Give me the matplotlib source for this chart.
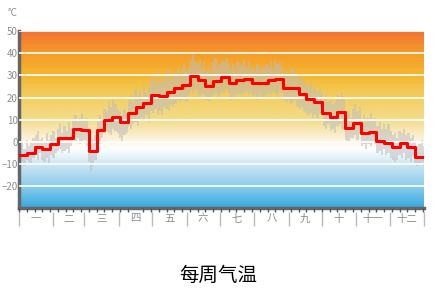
import numpy as np
import matplotlib.pyplot as plt
from matplotlib.colors import LinearSegmentedColormap

plt.rcParams['font.family'] = ['Noto Sans CJK SC', 'DejaVu Sans']

months = ['一', '二', '三', '四', '五', '六', '七', '八', '九', '十', '十一', '十二']
month_starts = [0, 31, 59, 90, 120, 151, 181, 212, 243, 273, 304, 334, 365]

# weekly mean temperature (red step line), week k starts on day 7k
weekly_mean = [-5.9, -4.8, -2.2, -3.2, -1.0, 1.7, 1.7, 5.8, 5.4, -4.0,
               5.4, 9.9, 11.4, 8.9, 13.2, 15.9, 17.4, 21.2, 20.9, 22.4,
               24.5, 25.7, 29.9, 27.9, 25.4, 27.6, 29.4, 26.4, 27.9, 28.6,
               26.4, 26.8, 27.9, 28.2, 24.5, 24.2, 21.5, 19.4, 17.9, 12.9,
               11.4, 13.7, 6.2, 8.7, 3.9, 4.4, 0.6, -0.3, -2.4, -0.3,
               -2.1, -6.6, -6.6]

range_high = [-1, 0, -3, 1, -2, 0, 2, 3, 5, 1,
              2, 0, 4, 1, 3, 5, 2, 6, 8, 4,
              7, 5, 9, 6, 10, 12, 9, 11, 13, 10,
              11, 2, -1, 1, 3, 9, 12, 10, 15, 14,
              18, 16, 19, 17, 15, 14, 12, 15, 13, 19,
              21, 18, 24, 21, 23, 20, 26, 22, 25, 28,
              30, 27, 32, 26, 29, 27, 31, 33, 28, 30,
              31, 34, 30, 33, 35, 32, 34, 37, 39, 36,
              35, 37, 33, 36, 32, 34, 31, 36, 38, 34,
              35, 37, 36, 38, 35, 33, 35, 32, 36, 34,
              35, 37, 34, 36, 33, 34, 32, 35, 33, 34,
              33, 35, 34, 36, 33, 37, 35, 36, 34, 31,
              32, 30, 33, 34, 31, 30, 28, 29, 27, 26,
              25, 27, 24, 25, 23, 24, 22, 19, 21, 18,
              19, 17, 18, 21, 19, 22, 20, 12, 14, 11,
              15, 17, 14, 16, 10, 12, 9, 11, 13, 10,
              11, 7, 9, 6, 8, 6, 8, 5, 3, 4,
              2, 5, 4, 6, 3, 4, 2, 3, 0, -2,
              -1, 1, -2]
range_low = [-10, -9, -11, -8, -9, -10, -7, -6, -8, -5,
             -8, -9, -7, -10, -6, -7, -5, -4, -3, -5,
             -4, -3, -5, -2, 1, 0, 2, -1, 0, 1,
             -2, -9, -13, -11, -8, 1, -1, 2, 4, 5,
             4, 3, 6, 5, 4, 2, 0, 3, 4, 7,
             6, 8, 9, 7, 10, 11, 10, 12, 9, 14,
             13, 15, 12, 14, 12, 16, 15, 14, 17, 16,
             17, 19, 18, 19, 20, 18, 21, 23, 22, 24,
             21, 20, 22, 21, 19, 18, 20, 21, 22, 20,
             21, 23, 22, 24, 22, 19, 20, 21, 21, 22,
             21, 22, 23, 21, 22, 20, 21, 19, 21, 20,
             20, 21, 22, 21, 23, 22, 21, 23, 22, 19,
             18, 19, 17, 18, 19, 16, 15, 16, 14, 13,
             12, 13, 11, 12, 11, 13, 12, 7, 6, 8,
             5, 6, 4, 7, 8, 6, 7, 1, 0, 2,
             2, 3, 1, 4, -2, -1, -3, -1, -2, 0,
             -1, -5, -4, -6, -3, -6, -5, -7, -8, -9,
             -8, -6, -7, -5, -8, -7, -9, -6, -10, -11,
             -10, -9, -11]

y_min, y_max = -29.7, 50

fig = plt.figure(figsize=(4.37, 3.07), dpi=100)
ax = fig.add_axes([19 / 437, 1 - 208 / 307, 405 / 437, 177 / 307])

# background gradient
stops = [(0.0, '#36a9df'), (0.122, '#8bcdec'), (0.247, '#cde6f3'), (0.335, '#ffffff'),
         (0.40, '#fbf0d4'), (0.498, '#f3dc8a'), (0.624, '#f3cf62'), (0.749, '#f4b730'),
         (0.875, '#f59c28'), (1.0, '#f27232')]
cmap = LinearSegmentedColormap.from_list('bg', stops)
grad = np.linspace(0, 1, 256).reshape(-1, 1)
ax.imshow(grad, cmap=cmap, origin='lower', aspect='auto',
          extent=[0, 365, y_min, y_max], zorder=0)

# daily ranges
bin_x = np.arange(len(range_high)) * 2
ax.bar(bin_x, np.array(range_high) - np.array(range_low), bottom=range_low,
       width=2, align='edge', color='#bdbdbd', alpha=0.55, linewidth=0, zorder=1)

# weekly means as steps
week_x = list(np.arange(len(weekly_mean)) * 7) + [365]
ax.step(week_x, weekly_mean + [weekly_mean[-1]], where='post',
        color='#ff0000', linewidth=2.2, zorder=3)

ax.set_xlim(0, 365)
ax.set_ylim(y_min, y_max)

ax.set_yticks([50, 40, 30, 20, 10, 0, -10, -20])
ax.yaxis.grid(True, color='white', linewidth=1.2)
ax.set_axisbelow(False)
ax.tick_params(axis='y', length=0, pad=1, labelsize=7, labelcolor='#8c8c8c')

mids = [(a + b) / 2 for a, b in zip(month_starts[:-1], month_starts[1:])]
ax.set_xticks(mids)
ax.set_xticklabels(months)
ax.set_xticks(np.arange(0, 365, 7), minor=True)
ax.tick_params(axis='x', which='major', length=0, pad=4, labelsize=7.5, labelcolor='#8c8c8c')
ax.tick_params(axis='x', which='minor', length=3, width=1, color='#555555')

# month boundary ticks, a little below the axis line
sec = ax.secondary_xaxis(-4 / 177)
sec.set_xticks(month_starts)
sec.set_xticklabels([])
sec.tick_params(length=10, width=1, color='#bbbbbb')
sec.spines['bottom'].set_visible(False)

for s in ['top', 'right']:
    ax.spines[s].set_visible(False)
for s in ['left', 'bottom']:
    ax.spines[s].set_color('#666666')
    ax.spines[s].set_linewidth(2.5)

fig.text(8 / 437, 1 - 13 / 307, '°C', fontsize=7, color='#8c8c8c', va='center')
fig.text(0.5, 1 - 275 / 307, '每周气温', fontsize=14, style='italic', ha='center', va='center')

plt.savefig('out.png', dpi=100)
